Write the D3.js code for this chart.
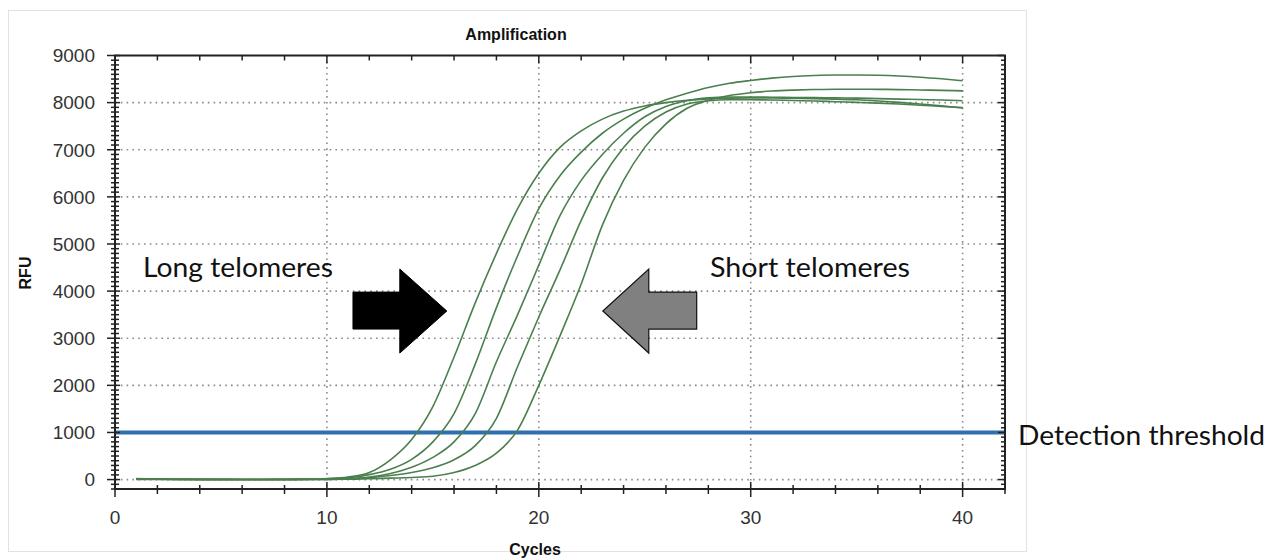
<!DOCTYPE html>
<html><head><meta charset="utf-8">
<script src="https://cdn.jsdelivr.net/npm/d3@7"></script>
<style>body{margin:0;background:#fff}</style>
</head><body><svg id="c" width="1282" height="560"></svg>
<script>
// ---- data ----
const cycles = [1,2,3,4,5,6,7,8,9,10,11,12,13,14,15,16,17,18,19,20,21,22,23,24,25,26,27,28,29,30,31,32,33,34,35,36,37,38,39,40];
const sample1 = [20,12,8,5,4,3,3,5,10,22,55,150,420,850,1550,2600,3750,4800,5750,6500,7050,7400,7650,7820,7930,8000,8050,8080,8095,8100,8098,8092,8085,8075,8060,8035,8005,7970,7930,7885];
const sample2 = [15,10,6,4,3,2,2,3,6,12,40,105,220,430,800,1400,2450,3650,4750,5750,6450,6950,7350,7650,7880,8060,8200,8320,8410,8470,8520,8555,8575,8585,8585,8580,8565,8540,8505,8465];
const sample3 = [10,8,5,3,2,2,2,3,5,8,22,55,130,260,470,800,1400,2500,3500,4550,5600,6350,6900,7350,7700,7920,8040,8100,8120,8120,8115,8110,8105,8100,8095,8085,8075,8065,8055,8040];
const sample4 = [8,6,4,3,2,1,1,2,3,5,14,38,85,150,250,420,720,1300,2400,3450,4450,5500,6400,7050,7500,7800,7970,8040,8060,8060,8055,8045,8035,8020,8005,7990,7970,7945,7920,7895];
const sample5 = [5,4,3,2,1,1,1,1,2,3,8,16,30,45,70,150,300,560,1050,2000,3050,4150,5400,6350,7050,7550,7880,8050,8150,8210,8245,8265,8278,8285,8285,8282,8276,8268,8260,8250];
const seriesList = [sample1, sample2, sample3, sample4, sample5];
const threshold = 1000;
const yTickValues = [0,1000,2000,3000,4000,5000,6000,7000,8000,9000];
const yTickLabels = ["0","1000","2000","3000","4000","5000","6000","7000","8000","9000"];
const xTickValues = [0,10,20,30,40];
const xTickLabels = ["0","10","20","30","40"];
const yMinorStep = 100, xMinorStep = 2;
const titleText = "Amplification", xTitle = "Cycles", yTitle = "RFU";

// ---- layout ----
const svg = d3.select("#c");
const x = d3.scaleLinear().domain([0,42]).range([115,1005]);
const y = d3.scaleLinear().domain([-200,9000]).range([489,55.5]);
const X0 = x.range()[0], X1 = x.range()[1], Y0 = y.range()[0], Y1 = y.range()[1];
const axisFont = "'Liberation Sans', Arial, sans-serif";

svg.append("rect").attr("x",8.5).attr("y",10.5).attr("width",1018).attr("height",541)
  .attr("fill","#fff").attr("stroke","#e2e2e2");

// grid
const grid = svg.append("g").attr("stroke","#8a8a8a").attr("stroke-width",1.6).attr("stroke-dasharray","1.6,4.2");
yTickValues.filter(v=>v<9000).forEach(v=>{
  grid.append("line").attr("x1",X0).attr("x2",X1).attr("y1",y(v)).attr("y2",y(v));
});
xTickValues.filter(v=>v>0).forEach(v=>{
  grid.append("line").attr("x1",x(v)).attr("x2",x(v)).attr("y1",Y1).attr("y2",Y0);
});

// threshold
svg.append("line").attr("x1",X0).attr("x2",X1).attr("y1",y(threshold)).attr("y2",y(threshold))
  .attr("stroke","#2f6fae").attr("stroke-width",4);

// curves
const line = d3.line().x((d,i)=>x(cycles[i])).y(d=>y(d)).curve(d3.curveMonotoneX);
svg.append("g").selectAll("path").data(seriesList).join("path")
  .attr("d",line).attr("fill","none").attr("stroke","#4a7f4e").attr("stroke-width",1.6);

// frame axes
const ax = svg.append("g").attr("stroke","#222");
ax.append("rect").attr("x",X0).attr("y",Y1).attr("width",X1-X0).attr("height",Y0-Y1)
  .attr("fill","none").attr("stroke-width",2);
const yMinor = d3.range(-200, 9001, yMinorStep);
yMinor.forEach(v=>{
  const major = yTickValues.includes(v);
  ax.append("line").attr("x1",major?107:111).attr("x2",major?120:119).attr("y1",y(v)).attr("y2",y(v)).attr("stroke-width",1.5);
  ax.append("line").attr("x1",X1-(major?7:4)).attr("x2",X1).attr("y1",y(v)).attr("y2",y(v)).attr("stroke-width",1.5);
});
const xMinor = d3.range(0, 43, xMinorStep);
xMinor.forEach(v=>{
  const major = xTickValues.includes(v);
  ax.append("line").attr("x1",x(v)).attr("x2",x(v)).attr("y1",major?482:485).attr("y2",major?497:494).attr("stroke-width",1.5);
  ax.append("line").attr("x1",x(v)).attr("x2",x(v)).attr("y1",Y1).attr("y2",Y1+(major?8:5)).attr("stroke-width",1.5);
});

// tick labels
svg.append("g").selectAll("text").data(yTickValues).join("text")
  .attr("x",95).attr("y",d=>y(d)).attr("dy","0.36em").attr("text-anchor","end")
  .attr("font-family",axisFont).attr("font-size",19).attr("fill","#333")
  .text((d,i)=>yTickLabels[i]);
svg.append("g").selectAll("text").data(xTickValues).join("text")
  .attr("x",d=>x(d)).attr("y",524).attr("text-anchor","middle")
  .attr("font-family",axisFont).attr("font-size",19).attr("fill","#333")
  .text((d,i)=>xTickLabels[i]);

// titles
svg.append("text").attr("x",516).attr("y",40).attr("text-anchor","middle")
  .attr("font-family",axisFont).attr("font-weight","bold").attr("font-size",16).attr("fill","#111").text(titleText);
svg.append("text").attr("x",535).attr("y",555).attr("text-anchor","middle")
  .attr("font-family",axisFont).attr("font-weight","bold").attr("font-size",16).attr("fill","#111").text(xTitle);
svg.append("text").attr("transform","translate(31,273) rotate(-90)").attr("text-anchor","middle")
  .attr("font-family",axisFont).attr("font-weight","bold").attr("font-size",16).attr("fill","#111").text(yTitle);

// annotations
const annFont = "Lato, 'Open Sans', sans-serif";
svg.append("text").attr("x",143).attr("y",277).attr("font-family",annFont).attr("font-size",26)
  .attr("textLength",190).attr("lengthAdjust","spacingAndGlyphs").attr("fill","#111").text("Long telomeres");
svg.append("text").attr("x",710).attr("y",277).attr("font-family",annFont).attr("font-size",26)
  .attr("textLength",200).attr("lengthAdjust","spacingAndGlyphs").attr("fill","#111").text("Short telomeres");
svg.append("text").attr("x",1018).attr("y",445).attr("font-family",annFont).attr("font-size",26)
  .attr("textLength",247).attr("lengthAdjust","spacingAndGlyphs").attr("fill","#111").text("Detection threshold");

// arrows (in data coordinates)
const rightArrow = [[11.23,3979],[13.44,3979],[13.44,4467],[15.66,3577],[13.44,2685],[13.44,3194],[11.23,3194]];
const leftArrow = [[27.45,3979],[25.19,3979],[25.19,4467],[23.02,3577],[25.19,2685],[25.19,3194],[27.45,3194]];
const poly = pts => pts.map(p=>x(p[0])+","+y(p[1])).join(" ");
svg.append("polygon").attr("points",poly(rightArrow)).attr("fill","#000").attr("stroke","#000").attr("stroke-width",1);
svg.append("polygon").attr("points",poly(leftArrow)).attr("fill","#808080").attr("stroke","#111").attr("stroke-width",1.2);
</script></body></html>
